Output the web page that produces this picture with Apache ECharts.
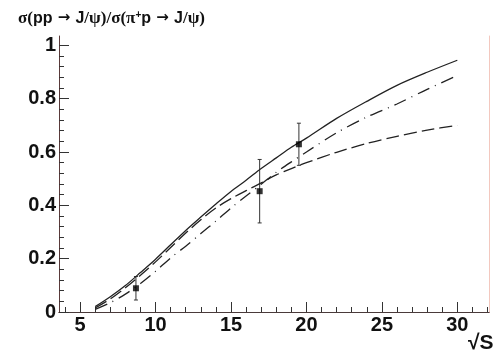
<!DOCTYPE html>
<html>
<head>
<meta charset="utf-8">
<script src="https://cdn.jsdelivr.net/npm/echarts@6/dist/echarts.min.js"></script>
<style>
  html, body { margin: 0; padding: 0; background: #fff; }
  #chart1 { width: 493px; height: 361px; }
</style>
</head>
<body>
<div id="chart1"></div>
<script>
// data
var xCurve = [6, 7, 8, 9, 10, 11, 12, 13, 14, 15, 16, 17, 18, 19, 20, 22, 24, 26, 28, 30];
var solidY = [0.02, 0.057, 0.099, 0.148, 0.198, 0.252, 0.306, 0.356, 0.405, 0.452, 0.494, 0.538, 0.578, 0.618, 0.652, 0.726, 0.79, 0.85, 0.899, 0.944];
var dashedY = [0.015, 0.049, 0.091, 0.138, 0.188, 0.242, 0.296, 0.346, 0.39, 0.425, 0.455, 0.484, 0.514, 0.538, 0.56, 0.599, 0.632, 0.659, 0.682, 0.70];
var dashDotY = [0.01, 0.035, 0.067, 0.107, 0.153, 0.203, 0.247, 0.294, 0.341, 0.39, 0.435, 0.479, 0.524, 0.563, 0.6, 0.672, 0.731, 0.78, 0.835, 0.887];

var pointX = [8.7, 16.9, 19.5];
var pointY = [0.089, 0.453, 0.629];
var pointErr = [0.044, 0.119, 0.079];

var xMajor = [5, 10, 15, 20, 25, 30];
var xMinor = [4, 5, 6, 7, 8, 9, 10, 11, 12, 13, 14, 15, 16, 17, 18, 19, 20, 21, 22, 23, 24, 25, 26, 27, 28, 29, 30, 31, 32];
var yMajor = [0, 0.2, 0.4, 0.6, 0.8, 1];
var yMinor = [0.04, 0.08, 0.12, 0.16, 0.24, 0.28, 0.32, 0.36, 0.44, 0.48, 0.52, 0.56, 0.64, 0.68, 0.72, 0.76, 0.84, 0.88, 0.92, 0.96, 1.04];

var X_MIN = 3.6, X_MAX = 32.1, Y_MIN = 0, Y_MAX = 1.035;

function pairs(xs, ys) {
    return xs.map(function (x, i) { return [x, ys[i]]; });
}

var chartDom = document.getElementById('chart1');
var myChart = echarts.init(chartDom);
var option;

var labelFont = {
    fontFamily: 'Liberation Sans',
    fontWeight: 'bold',
    fontSize: 20,
    color: '#111'
};

option = {
    animation: false,
    backgroundColor: '#fff',
    title: {
        left: 18,
        top: 10,
        padding: 0,
        text: '{n|σ(}{b|pp}{a| → }{b|J}{n|/ψ)/σ(π}{s|+}{b|p}{a| → }{b|J}{n|/ψ)}',
        textStyle: {
            rich: {
                n: {fontFamily: 'Liberation Serif', fontSize: 17, color: '#111'},
                b: {fontFamily: 'Liberation Sans', fontSize: 16, fontWeight: 'bold', color: '#111'},
                a: {fontFamily: 'DejaVu Sans', fontSize: 15, color: '#111'},
                s: {fontFamily: 'Liberation Sans', fontSize: 10, fontWeight: 'bold', color: '#111', verticalAlign: 'top', padding: [0, 0, 6, 0]}
            }
        }
    },
    graphic: [{
        type: 'text',
        left: 468,
        top: 333,
        style: {
            text: '√S',
            fontFamily: 'Liberation Sans',
            fontWeight: 'bold',
            fontSize: 21,
            fill: '#111'
        }
    }],
    grid: {
        left: 59,
        right: 4,
        top: 36,
        bottom: 49,
        outerBoundsMode: 'none'
    },
    xAxis: [
        {
            type: 'value', min: X_MIN, max: X_MAX, position: 'bottom',
            splitLine: {show: false},
            axisLine: {lineStyle: {color: '#8a4444', width: 1}},
            axisTick: {inside: true, length: 10, customValues: xMajor, lineStyle: {color: '#333'}},
            axisLabel: Object.assign({customValues: xMajor, margin: 3}, labelFont)
        },
        {
            type: 'value', min: X_MIN, max: X_MAX, position: 'bottom',
            splitLine: {show: false},
            axisLine: {show: false},
            axisTick: {inside: true, length: 5, customValues: xMinor, lineStyle: {color: '#333'}},
            axisLabel: {show: false}
        },
        {
            type: 'value', min: X_MIN, max: X_MAX, position: 'top',
            splitLine: {show: false},
            axisLine: {lineStyle: {color: '#4a3a3a'}},
            axisTick: {show: false},
            axisLabel: {show: false}
        }
    ],
    yAxis: [
        {
            type: 'value', min: Y_MIN, max: Y_MAX, position: 'left',
            splitLine: {show: false},
            axisLine: {show: true, lineStyle: {color: '#5a3a3a', width: 1}},
            axisTick: {show: true, inside: true, length: 10, customValues: yMajor, lineStyle: {color: '#333'}},
            axisLabel: Object.assign({customValues: yMajor, margin: 3}, labelFont)
        },
        {
            type: 'value', min: Y_MIN, max: Y_MAX, position: 'left',
            splitLine: {show: false},
            axisLine: {show: false},
            axisTick: {show: true, inside: true, length: 5, customValues: yMinor, lineStyle: {color: '#333'}},
            axisLabel: {show: false}
        },
        {
            type: 'value', min: Y_MIN, max: Y_MAX, position: 'right',
            splitLine: {show: false},
            axisLine: {show: true, lineStyle: {color: '#f3c8bf'}},
            axisTick: {show: false},
            axisLabel: {show: false}
        }
    ],
    series: [
        {
            name: 'solid', type: 'line', smooth: 0.3, showSymbol: false,
            data: pairs(xCurve, solidY),
            lineStyle: {color: '#222', width: 1.3}
        },
        {
            name: 'dashed', type: 'line', smooth: 0.3, showSymbol: false,
            data: pairs(xCurve, dashedY),
            lineStyle: {color: '#222', width: 1.3, type: [13, 5]}
        },
        {
            name: 'dashdot', type: 'line', smooth: 0.3, showSymbol: false,
            data: pairs(xCurve, dashDotY),
            lineStyle: {color: '#222', width: 1.3, type: [13, 6, 1, 6]}
        },
        {
            name: 'errors', type: 'custom',
            data: pointX.map(function (x, i) { return [x, pointY[i] - pointErr[i], pointY[i] + pointErr[i]]; }),
            renderItem: function (params, api) {
                var lo = api.coord([api.value(0), api.value(1)]);
                var hi = api.coord([api.value(0), api.value(2)]);
                var style = {stroke: '#333', lineWidth: 1};
                return {
                    type: 'group',
                    children: [
                        {type: 'line', shape: {x1: lo[0], y1: lo[1], x2: hi[0], y2: hi[1]}, style: style},
                        {type: 'line', shape: {x1: lo[0] - 2, y1: lo[1], x2: lo[0] + 2, y2: lo[1]}, style: style},
                        {type: 'line', shape: {x1: hi[0] - 2, y1: hi[1], x2: hi[0] + 2, y2: hi[1]}, style: style}
                    ]
                };
            },
            z: 3
        },
        {
            name: 'points', type: 'scatter', symbol: 'rect', symbolSize: 6,
            data: pairs(pointX, pointY),
            itemStyle: {color: '#000'},
            z: 4
        }
    ]
};

option && myChart.setOption(option);
</script>
</body>
</html>
